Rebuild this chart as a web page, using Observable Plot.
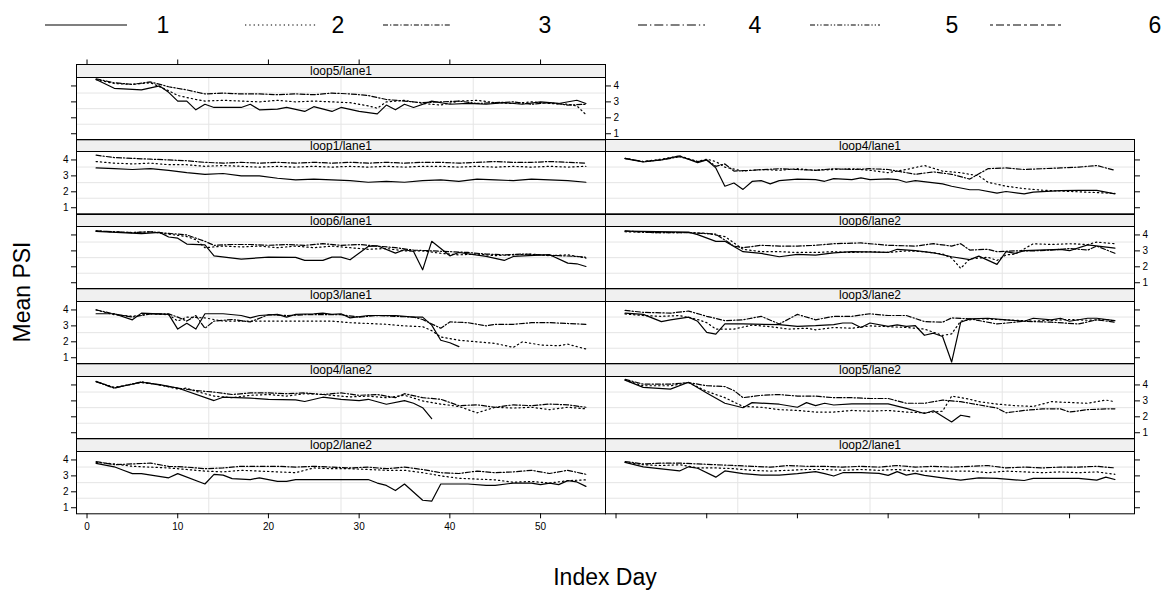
<!DOCTYPE html>
<html><head><meta charset="utf-8">
<script src="https://cdn.jsdelivr.net/npm/d3@7"></script>
<script src="https://cdn.jsdelivr.net/npm/@observablehq/plot@0.6"></script>
<style>
body{margin:0;background:#fff;font-family:"Liberation Sans",Arial,sans-serif;color:#000;}
#root{position:relative;width:1168px;height:590px;overflow:hidden;}
.strip{position:absolute;box-sizing:border-box;border:1px solid #000;background:#f0f0f0;font-size:12px;text-align:center;white-space:nowrap;overflow:hidden;}
.pp{position:absolute;}
.ttl{position:absolute;font-size:23px;white-space:nowrap;}
</style></head><body><div id="root"></div>
<script>
// ---------- data ----------
const seriesLabels = ["1","2","3","4","5","6"];
const xTicks = [0,10,20,30,40,50];
const yTicks = [1,2,3,4];
const panelNames = ["loop2/lane2","loop2/lane1","loop4/lane2","loop5/lane2","loop3/lane1","loop3/lane2","loop6/lane1","loop6/lane2","loop1/lane1","loop4/lane1","loop5/lane1"];

const loop5_lane1_1 = [[1,4.4],[3,3.85],[6,3.75],[8,4.0],[9,3.6],[10,3.05],[11,3.05],[12,2.5],[13,2.85],[14,2.65],[17,2.65],[18,2.85],[19,2.5],[21,2.55],[22,2.65],[24,2.4],[25,2.7],[27,2.4],[28,2.65],[30,2.4],[32,2.25],[33,2.8],[34,2.5],[35,2.85],[36,2.65],[38,3.05],[40,2.85],[42,2.9],[44,2.85],[46,2.95],[48,2.85],[50,3.0],[52,2.9],[54,3.1],[55,2.9]];
const loop5_lane1_2 = [[1,4.4],[3,4.15],[5,4.1],[7,4.2],[9,3.7],[10,3.4],[12,3.15],[13,3.05],[15,3.1],[17,3.05],[19,3.0],[21,3.1],[23,3.0],[25,3.05],[27,3.0],[29,2.95],[31,2.75],[32,2.6],[33,3.0],[35,3.1],[37,2.9],[39,2.8],[41,3.05],[43,3.1],[45,2.95],[47,2.9],[49,3.0],[51,2.9],[53,2.85],[54,2.75],[55,2.2]];
const loop5_lane1_3 = [[1,4.45],[3,4.2],[5,4.1],[7,4.25],[9,3.95],[11,3.75],[13,3.5],[15,3.55],[17,3.5],[19,3.5],[21,3.45],[23,3.5],[25,3.45],[27,3.55],[29,3.5],[31,3.4],[33,3.15],[35,3.05],[37,2.95],[39,3.0],[41,3.05],[43,2.9],[45,2.95],[47,3.0],[49,2.85],[51,2.95],[53,2.8],[55,2.85]];

const loop1_lane1_1 = [[1,3.5],[3,3.45],[5,3.4],[7,3.45],[9,3.35],[11,3.2],[13,3.1],[15,3.15],[17,3.0],[19,3.0],[21,2.85],[23,2.75],[25,2.8],[27,2.75],[29,2.7],[31,2.6],[33,2.65],[35,2.6],[37,2.7],[39,2.75],[41,2.65],[43,2.8],[45,2.75],[47,2.7],[49,2.8],[51,2.75],[53,2.7],[55,2.6]];
const loop1_lane1_2 = [[1,3.9],[3,3.8],[5,3.75],[7,3.8],[9,3.7],[11,3.7],[13,3.6],[15,3.65],[17,3.6],[19,3.55],[21,3.6],[23,3.55],[25,3.6],[27,3.55],[29,3.6],[31,3.55],[33,3.6],[35,3.55],[37,3.6],[39,3.6],[41,3.55],[43,3.6],[45,3.55],[47,3.6],[49,3.55],[51,3.6],[53,3.55],[55,3.6]];
const loop1_lane1_3 = [[1,4.3],[3,4.15],[5,4.1],[7,4.05],[9,4.0],[11,3.95],[13,3.85],[15,3.8],[17,3.85],[19,3.8],[21,3.85],[23,3.8],[25,3.85],[27,3.8],[29,3.85],[31,3.8],[33,3.85],[35,3.8],[37,3.85],[39,3.85],[41,3.8],[43,3.85],[45,3.9],[47,3.85],[49,3.85],[51,3.9],[53,3.85],[55,3.8]];

const loop4_lane1_1 = [[1,4.08],[3,3.87],[5,4.0],[7,4.25],[9,3.83],[10,4.0],[11,3.5],[12,2.35],[13,2.55],[14,2.15],[15,2.65],[16,2.7],[17,2.5],[18,2.7],[20,2.8],[22,2.77],[23,2.66],[24,2.83],[26,2.77],[27,2.87],[28,2.77],[30,2.81],[31,2.77],[32,2.6],[33,2.7],[36,2.5],[37,2.35],[39,2.13],[40,2.13],[42,1.92],[43,2.02],[45,1.87],[46,1.98],[49,2.07],[51,2.09],[53,2.09],[55,1.87]];
const loop4_lane1_2 = [[1,4.1],[3,3.9],[5,4.05],[7,4.25],[9,3.9],[10,4.05],[11,3.9],[12,3.55],[14,3.3],[16,3.4],[18,3.35],[20,3.45],[22,3.35],[24,3.4],[26,3.45],[28,3.35],[30,3.2],[32,3.4],[34,3.65],[36,3.3],[38,3.2],[40,3.0],[41,2.6],[43,2.35],[45,2.2],[47,2.1],[49,2.05],[51,2.0],[53,1.95],[55,1.9]];
const loop4_lane1_3 = [[1,4.1],[3,3.9],[5,4.0],[7,4.2],[9,3.9],[10,4.0],[11,3.6],[12,3.75],[13,3.3],[15,3.35],[18,3.45],[20,3.4],[22,3.35],[24,3.45],[26,3.4],[28,3.45],[30,3.4],[32,3.2],[33,3.1],[35,3.25],[37,3.1],[39,2.8],[41,3.45],[43,3.5],[45,3.4],[47,3.45],[49,3.5],[51,3.55],[53,3.65],[55,3.35]];

const loop6_lane1_1 = [[1,4.23],[6,4.08],[8,4.16],[9,3.87],[10,3.8],[11,3.43],[13,3.38],[14,2.69],[17,2.48],[20,2.61],[23,2.59],[24,2.4],[26,2.4],[27,2.61],[28,2.61],[29,2.44],[31,3.28],[32,3.32],[34,2.86],[35,3.07],[36,2.96],[37,1.81],[38,3.6],[40,2.69],[41,2.9],[44,2.65],[46,2.4],[47,2.65],[51,2.76],[53,2.23],[54,2.19],[55,2.02]];
const loop6_lane1_2 = [[1,4.25],[3,4.2],[5,4.15],[7,4.2],[9,4.05],[11,3.9],[12,3.7],[13,3.2],[15,3.3],[17,3.25],[19,3.3],[21,3.2],[23,3.3],[25,3.2],[27,3.3],[29,3.2],[31,3.1],[33,3.15],[35,3.0],[37,3.0],[39,2.85],[41,2.75],[43,2.8],[45,2.7],[47,2.75],[49,2.8],[51,2.7],[53,2.75],[55,2.55]];
const loop6_lane1_3 = [[1,4.25],[3,4.2],[5,4.15],[7,4.2],[9,4.1],[11,4.0],[13,3.6],[14,3.35],[16,3.4],[18,3.4],[20,3.35],[22,3.4],[24,3.35],[26,3.45],[28,3.35],[30,3.4],[32,3.3],[34,3.2],[36,3.05],[38,3.0],[40,2.95],[42,2.9],[44,2.8],[46,2.75],[48,2.8],[50,2.75],[52,2.7],[54,2.65],[55,2.6]];

const loop6_lane2_1 = [[1,4.24],[8,4.18],[9,4.02],[11,3.6],[12,3.6],[14,2.95],[16,2.84],[18,2.63],[20,2.78],[22,2.73],[24,2.88],[26,2.95],[30,2.9],[31,3.1],[33,3.01],[35,2.88],[37,2.63],[39,2.45],[40,2.67],[42,2.15],[43,2.95],[44,2.84],[45,3.01],[49,3.1],[50,3.01],[52,3.38],[55,3.17]];
const loop6_lane2_2 = [[1,4.2],[4,4.15],[8,4.15],[10,4.1],[12,3.9],[14,3.1],[16,2.95],[18,2.95],[20,2.9],[22,2.9],[24,2.95],[26,2.9],[28,2.95],[30,2.9],[32,3.0],[34,2.95],[36,2.8],[37,2.55],[38,1.9],[39,2.5],[41,2.6],[42,2.4],[43,2.75],[44,2.8],[46,3.45],[48,3.4],[50,3.45],[52,3.4],[53,3.55],[55,3.45]];
const loop6_lane2_3 = [[1,4.25],[4,4.15],[8,4.15],[11,4.05],[13,3.3],[14,3.2],[16,3.35],[18,3.3],[20,3.3],[22,3.35],[24,3.45],[27,3.5],[30,3.35],[33,3.3],[35,3.45],[37,3.3],[38,3.45],[39,3.05],[41,3.1],[42,2.95],[44,3.0],[46,3.0],[48,3.05],[50,3.15],[52,3.05],[53,3.3],[55,2.85]];

const loop3_lane1_1 = [[1,3.76],[3,3.76],[5,3.38],[6,3.8],[9,3.72],[10,2.8],[11,3.16],[12,2.8],[13,3.76],[15,3.76],[17,3.65],[18,3.5],[19,3.65],[21,3.72],[22,3.55],[23,3.72],[25,3.76],[26,3.8],[27,3.72],[28,3.76],[29,3.5],[31,3.65],[32,3.65],[34,3.65],[36,3.55],[37,3.55],[38,3.05],[39,2.1],[40,1.94],[41,1.7]];
const loop3_lane1_2 = [[1,4.0],[3,3.7],[5,3.6],[7,3.75],[9,3.7],[10,3.3],[11,3.55],[13,3.5],[15,3.3],[17,3.3],[19,3.3],[21,3.3],[23,3.3],[25,3.3],[27,3.3],[29,3.2],[31,3.15],[33,3.1],[35,3.0],[37,2.95],[38,2.7],[39,2.3],[41,2.1],[43,2.0],[45,1.9],[47,1.65],[48,2.0],[50,1.8],[52,1.75],[53,1.85],[55,1.55]];
const loop3_lane1_3 = [[1,4.0],[3,3.75],[5,3.55],[7,3.75],[9,3.75],[10,3.55],[11,3.3],[12,3.65],[13,2.85],[14,3.3],[16,3.4],[18,3.25],[20,3.7],[22,3.65],[24,3.7],[26,3.7],[28,3.7],[30,3.55],[32,3.65],[34,3.6],[36,3.55],[37,3.4],[39,2.85],[40,3.25],[42,3.2],[44,3.0],[45,3.1],[47,3.1],[49,3.2],[51,3.2],[53,3.15],[55,3.1]];

const loop3_lane2_1 = [[1,3.8],[3,3.72],[5,3.27],[6,3.38],[8,3.55],[9,3.29],[10,2.59],[11,2.48],[12,3.12],[14,3.12],[18,3.08],[20,2.97],[22,3.01],[24,3.08],[25,3.18],[26,3.18],[27,2.9],[28,3.18],[30,2.97],[31,3.06],[32,2.97],[33,3.01],[34,2.41],[35,2.54],[36,2.33],[37,0.73],[38,3.23],[39,3.44],[41,3.48],[43,3.38],[45,3.29],[46,3.48],[48,3.38],[49,3.48],[50,3.29],[52,3.48],[53,3.48],[55,3.33]];
const loop3_lane2_2 = [[1,3.75],[3,3.65],[5,3.6],[7,3.65],[9,3.4],[10,3.2],[11,2.8],[13,2.8],[15,3.05],[17,2.95],[19,2.8],[21,2.85],[22,2.75],[24,2.9],[26,2.85],[28,3.0],[30,2.95],[32,2.9],[34,2.8],[36,2.4],[37,2.5],[38,3.3],[40,3.45],[42,3.4],[44,3.35],[46,3.3],[48,3.35],[50,3.4],[52,3.35],[54,3.4],[55,3.3]];
const loop3_lane2_3 = [[1,3.97],[3,3.85],[6,3.8],[8,3.93],[10,3.6],[12,3.33],[14,3.38],[16,3.6],[18,3.12],[20,3.72],[22,3.38],[24,3.6],[26,3.6],[28,3.76],[30,3.65],[32,3.65],[34,3.27],[36,3.23],[37,3.5],[39,3.44],[42,3.12],[45,3.29],[48,3.23],[51,3.12],[53,3.38],[55,3.23]];

const loop4_lane2_1 = [[1,4.23],[3,3.81],[6,4.17],[8,4.02],[10,3.81],[14,3.02],[15,3.23],[18,3.17],[20,3.1],[23,3.06],[24,2.96],[26,3.23],[28,3.1],[30,3.02],[31,3.1],[33,2.79],[35,3.02],[36,2.85],[37,2.57],[38,1.89]];
const loop4_lane2_2 = [[1,4.2],[3,3.85],[6,4.15],[8,4.0],[10,3.75],[11,3.8],[12,3.6],[14,3.3],[16,3.2],[18,3.35],[20,3.4],[22,3.3],[24,3.45],[26,3.4],[29,3.25],[31,3.3],[33,3.2],[35,3.35],[37,3.0],[39,2.8],[41,2.65],[43,2.25],[45,2.6],[47,2.55],[49,2.6],[51,2.45],[53,2.6],[55,2.5]];
const loop4_lane2_3 = [[1,4.2],[3,3.8],[6,4.2],[8,4.0],[10,3.8],[12,3.65],[14,3.55],[16,3.4],[18,3.5],[20,3.5],[22,3.45],[24,3.5],[26,3.4],[28,3.5],[30,3.35],[32,3.4],[34,3.2],[35,3.45],[37,3.2],[39,3.1],[41,2.7],[43,2.75],[45,2.6],[47,2.75],[49,2.7],[51,2.8],[53,2.75],[55,2.6]];

const loop5_lane2_1 = [[1,4.3],[3,3.85],[6,3.74],[8,4.17],[10,3.49],[12,2.85],[14,2.57],[15,2.89],[18,2.79],[20,2.6],[21,2.89],[22,2.7],[23,2.85],[24,2.74],[26,2.81],[30,2.81],[32,2.53],[34,2.21],[35,2.38],[37,1.68],[38,2.1],[39,2.0]];
const loop5_lane2_2 = [[1,4.3],[3,3.95],[6,3.95],[8,4.15],[10,3.6],[12,3.2],[14,2.65],[16,2.6],[18,2.45],[20,2.4],[22,2.3],[24,2.3],[26,2.4],[28,2.35],[30,2.4],[32,2.3],[34,2.25],[36,2.35],[37,3.3],[39,3.1],[40,2.95],[42,2.8],[44,2.7],[46,2.65],[48,2.95],[50,2.9],[52,2.85],[54,3.05],[55,2.95]];
const loop5_lane2_3 = [[1,4.35],[3,4.05],[6,4.05],[8,4.15],[10,3.95],[12,3.9],[13,3.65],[14,3.2],[16,3.35],[18,3.4],[20,3.3],[22,3.3],[24,3.2],[26,3.2],[28,3.15],[30,3.15],[32,2.85],[34,2.85],[36,3.05],[38,2.95],[40,2.75],[42,2.55],[43,2.25],[45,2.4],[47,2.5],[49,2.5],[50,2.3],[52,2.45],[54,2.5],[55,2.5]];

const loop2_lane2_1 = [[1,3.78],[3,3.57],[4,3.35],[5,3.14],[6,3.14],[9,2.88],[10,3.14],[13,2.49],[14,3.09],[15,3.05],[16,2.83],[18,2.77],[19,2.88],[21,2.66],[22,2.66],[23,2.77],[31,2.77],[32,2.55],[33,2.4],[34,2.08],[35,2.49],[37,1.47],[38,1.41],[39,2.49],[42,2.49],[44,2.4],[45,2.4],[47,2.55],[49,2.55],[50,2.45],[51,2.55],[52,2.45],[53,2.7],[54,2.62],[55,2.34]];
const loop2_lane2_2 = [[1,3.85],[3,3.75],[5,3.6],[7,3.55],[9,3.5],[11,3.4],[13,3.3],[15,3.25],[17,3.35],[19,3.3],[21,3.25],[23,3.2],[25,3.5],[27,3.45],[29,3.45],[31,3.4],[33,3.35],[35,3.35],[37,3.2],[39,3.0],[41,2.85],[43,2.8],[45,2.75],[47,2.6],[49,2.65],[51,2.55],[53,2.7],[55,2.75]];
const loop2_lane2_3 = [[1,3.9],[3,3.7],[5,3.75],[7,3.8],[9,3.6],[11,3.55],[13,3.45],[15,3.5],[17,3.6],[19,3.6],[21,3.6],[23,3.55],[25,3.6],[27,3.55],[29,3.5],[31,3.55],[33,3.45],[35,3.55],[37,3.4],[39,3.2],[41,3.15],[43,3.3],[45,3.2],[47,3.25],[49,3.35],[51,3.15],[53,3.35],[55,3.1]];

const loop2_lane1_1 = [[1,3.85],[3,3.57],[7,3.31],[8,3.57],[9,3.48],[11,2.92],[12,3.31],[14,3.14],[16,3.05],[18,3.05],[20,3.14],[22,3.27],[23,3.14],[24,2.99],[25,3.2],[27,3.2],[29,3.16],[30,3.03],[31,3.27],[32,3.05],[33,3.16],[34,3.03],[36,2.88],[38,2.73],[40,2.88],[42,2.84],[45,2.71],[46,2.84],[48,2.84],[51,2.84],[53,2.73],[54,2.92],[55,2.77]];
const loop2_lane1_2 = [[1,3.85],[3,3.7],[5,3.65],[7,3.7],[9,3.5],[11,3.5],[13,3.45],[15,3.35],[17,3.3],[19,3.35],[21,3.4],[23,3.4],[25,3.35],[27,3.4],[29,3.35],[31,3.4],[33,3.3],[35,3.3],[37,3.3],[39,3.3],[41,3.2],[43,3.3],[45,3.25],[47,3.2],[49,3.25],[51,3.2],[53,3.25],[55,3.1]];
const loop2_lane1_3 = [[1,3.9],[3,3.75],[5,3.8],[7,3.8],[9,3.75],[11,3.7],[13,3.65],[15,3.6],[17,3.55],[19,3.65],[21,3.6],[23,3.6],[25,3.55],[27,3.6],[29,3.55],[31,3.65],[33,3.55],[35,3.6],[37,3.55],[39,3.6],[41,3.65],[43,3.5],[45,3.55],[47,3.5],[49,3.55],[51,3.55],[53,3.6],[55,3.5]];

const panelSeries = [
  [loop2_lane2_1, loop2_lane2_2, loop2_lane2_3],
  [loop2_lane1_1, loop2_lane1_2, loop2_lane1_3],
  [loop4_lane2_1, loop4_lane2_2, loop4_lane2_3],
  [loop5_lane2_1, loop5_lane2_2, loop5_lane2_3],
  [loop3_lane1_1, loop3_lane1_2, loop3_lane1_3],
  [loop3_lane2_1, loop3_lane2_2, loop3_lane2_3],
  [loop6_lane1_1, loop6_lane1_2, loop6_lane1_3],
  [loop6_lane2_1, loop6_lane2_2, loop6_lane2_3],
  [loop1_lane1_1, loop1_lane1_2, loop1_lane1_3],
  [loop4_lane1_1, loop4_lane1_2, loop4_lane1_3],
  [loop5_lane1_1, loop5_lane1_2, loop5_lane1_3]
];

// ---------- styles / layout ----------
const dashes = [null, "1.3,3", "5,2,1.3,2", "9,3,1.3,3", "5,2,1.3,2,1.3,2", "3,3,8,3"];
const xDomain = [-1.16, 57.16];
const yDomain = [0.62, 4.53];
const L0 = 76, PW = 529, T0 = 64, ROWH = 74.8, SH = 12.5, PH = ROWH - SH, M = 40, NROW = 6;
const FONT = "'Liberation Sans', Arial, sans-serif";
const root = document.getElementById("root");

const quarters = (d) => [1,2,3].map(k => d[0] + k * (d[1] - d[0]) / 4);
const pxPerY = PH / (yDomain[1] - yDomain[0]);

panelNames.forEach((name, i) => {
  const col = i % 2, rowB = Math.floor(i / 2), rowT = NROW - 1 - rowB;
  const left = L0 + col * PW, top = T0 + rowT * ROWH + SH;
  const isTop = rowB === NROW - 1;
  const marks = [
    Plot.ruleX(quarters(xDomain), {stroke: "#e5e5e5"}),
    Plot.ruleY(quarters(yDomain), {stroke: "#e5e5e5"}),
    ...panelSeries[i].map((s, k) => Plot.line(s, {x: d => d[0], y: d => d[1], stroke: "#000", strokeWidth: 1.2, strokeDasharray: dashes[k]})),
    Plot.frame({stroke: "#000", strokeWidth: 1})
  ];
  const lab = (show) => show ? (d => String(d)) : (() => "");
  if (col === 0) marks.push(Plot.axisY({ticks: yTicks, anchor: "left", tickSize: 5, tickPadding: 3, label: null, tickFormat: lab(rowB % 2 === 0)}));
  if (col === 1 || isTop) marks.push(Plot.axisY({ticks: yTicks, anchor: "right", tickSize: 5, tickPadding: 3, label: null, tickFormat: lab(rowB % 2 === 1)}));
  if (rowB === 0) marks.push(Plot.axisX({ticks: xTicks, anchor: "bottom", tickSize: 5, tickPadding: 4, label: null, tickFormat: lab(col === 0)}));
  if (isTop) marks.push(Plot.ruleX(xTicks, {x: d => d, y1: yDomain[1] + SH / pxPerY, y2: yDomain[1] + (SH + 5) / pxPerY, stroke: "#000"}));
  const p = Plot.plot({
    width: PW + 2 * M, height: PH + 2 * M, margin: M,
    x: {domain: xDomain, axis: null}, y: {domain: yDomain, axis: null},
    style: {background: "transparent", overflow: "visible", fontSize: "10px", fontFamily: FONT, color: "#000"},
    marks
  });
  p.classList.add("pp");
  p.style.left = (left - M) + "px";
  p.style.top = (top - M) + "px";
  root.appendChild(p);
  const st = document.createElement("div");
  st.className = "strip";
  st.textContent = name;
  st.style.left = left + "px";
  st.style.top = (top - SH) + "px";
  st.style.width = (PW + 1) + "px";
  st.style.height = (SH + 1) + "px";
  st.style.lineHeight = (SH + 1) + "px";
  root.appendChild(st);
});

// ---------- legend ----------
const legendLineX = [[45,127],[245,318],[383,450],[638,705],[810,880],[990,1062]];
const legendTextX = [163,338,545,755,952,1155];
const lg = d3.select(root).append("svg").attr("width", 1168).attr("height", 50)
  .style("position", "absolute").style("left", "0px").style("top", "0px");
seriesLabels.forEach((lbl, k) => {
  lg.append("line").attr("x1", legendLineX[k][0]).attr("x2", legendLineX[k][1]).attr("y1", 25).attr("y2", 25)
    .attr("stroke", "#000").attr("stroke-width", 1.2).attr("stroke-dasharray", dashes[k]);
  lg.append("text").attr("x", legendTextX[k]).attr("y", 33).attr("text-anchor", "middle")
    .attr("font-size", 23).attr("font-family", FONT).text(lbl);
});

// ---------- titles ----------
const xt = document.createElement("div");
xt.className = "ttl"; xt.textContent = "Index Day";
xt.style.left = "605px"; xt.style.top = "564px"; xt.style.transform = "translateX(-50%)";
root.appendChild(xt);
const yt = document.createElement("div");
yt.className = "ttl"; yt.textContent = "Mean PSI";
yt.style.left = "22px"; yt.style.top = "292px"; yt.style.transform = "translate(-50%,-50%) rotate(-90deg)";
root.appendChild(yt);
</script></body></html>
